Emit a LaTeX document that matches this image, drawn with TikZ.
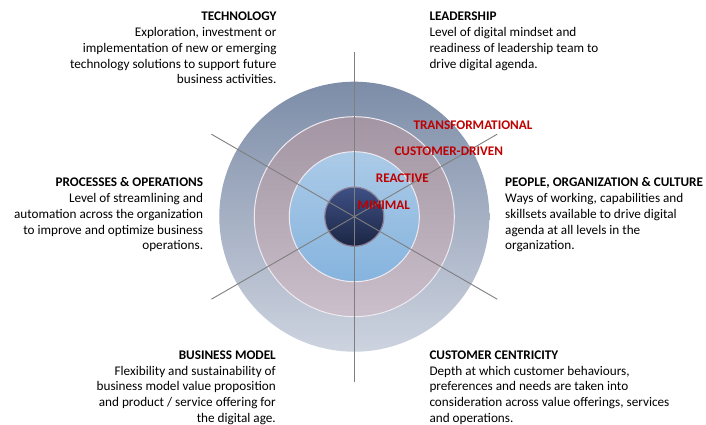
\documentclass[tikz,border=0pt]{standalone}
\usepackage{fontspec}
\setmainfont{Carlito}
\usetikzlibrary{calc}
\definecolor{outerT}{HTML}{7D8DA8}
\definecolor{outerB}{HTML}{CDD3DF}
\definecolor{mauveT}{HTML}{A395A3}
\definecolor{mauveB}{HTML}{CABFCA}
\definecolor{lblueT}{HTML}{ABCAE7}
\definecolor{lblueB}{HTML}{86B4DE}
\definecolor{darkT}{HTML}{3E5085}
\definecolor{darkB}{HTML}{1C2644}
\definecolor{darkRim}{HTML}{8C8198}
\definecolor{ringLine}{HTML}{EEEAF0}
\definecolor{spokeC}{HTML}{7F7F7F}
\definecolor{lvlRed}{HTML}{C00000}
\tikzset{
  ring/.style={circle, inner sep=0pt, outer sep=0pt},
  spoke/.style={draw=spokeC, line width=0.9pt},
  lvl/.style={text=lvlRed, font=\fontsize{13.2}{15.8}\selectfont\bfseries, inner sep=0pt, anchor=base west},
  block/.style={inner sep=0pt, font=\fontsize{13.2}{15.8}\selectfont, text=black}
}
\begin{document}
\begin{tikzpicture}[x=1pt,y=-1pt]
\fill[white] (0,0) rectangle (706,425);
\useasboundingbox (0,0) rectangle (706,425);
\coordinate (c) at (354.3,216.7);
% rings
\node[ring, minimum size=270pt, top color=outerT, bottom color=outerB] (outer) at (c) {};
\node[ring, minimum size=200pt, top color=mauveT, bottom color=mauveB, draw=ringLine, line width=1pt] (mauve) at (c) {};
\node[ring, minimum size=130pt, top color=lblueT, bottom color=lblueB, draw=ringLine, line width=1pt] (lblue) at (c) {};
\node[ring, minimum size=59pt, top color=darkT, bottom color=darkB, draw=darkRim, line width=1.2pt] (dark) at (c) {};
% spokes
\foreach \a in {30,90,150,210,270,330}{
  \coordinate (s\a) at ($(c)+(\a:165)$);
  \draw[spoke] (c) -- (s\a);
}
% level labels
\node[lvl] (transf) at (413.3,129.3) {TRANSFORMATIONAL};
\node[lvl] (custdr) at (394.3,155.7) {CUSTOMER-DRIVEN};
\node[lvl] (react) at (375.7,182.7) {REACTIVE};
\node[lvl] (minim) at (357.3,209) {MINIMAL};
% text blocks
\node[block, anchor=base east] (tech) at (276.7,20.7) {\begin{tabular}[t]{@{}r@{}}\textbf{TECHNOLOGY}\\Exploration, investment or\\implementation of new or emerging\\technology solutions to support future\\business activities.\end{tabular}};
\node[block, anchor=base west] (lead) at (429.3,20.7) {\begin{tabular}[t]{@{}l@{}}\textbf{LEADERSHIP}\\Level of digital mindset and\\readiness of leadership team to\\drive digital agenda.\end{tabular}};
\node[block, anchor=base east] (proc) at (203.3,186.7) {\begin{tabular}[t]{@{}r@{}}\textbf{PROCESSES \& OPERATIONS}\\Level of streamlining and\\automation across the organization\\to improve and optimize business\\operations.\end{tabular}};
\node[block, anchor=base west] (people) at (505,186.7) {\begin{tabular}[t]{@{}l@{}}\textbf{PEOPLE, ORGANIZATION \& CULTURE}\\Ways of working, capabilities and\\skillsets available to drive digital\\agenda at all levels in the\\organization.\end{tabular}};
\node[block, anchor=base east] (bm) at (276,359.3) {\begin{tabular}[t]{@{}r@{}}\textbf{BUSINESS MODEL}\\Flexibility and sustainability of\\business model value proposition\\and product / service offering for\\the digital age.\end{tabular}};
\node[block, anchor=base west] (cc) at (429.3,359.3) {\begin{tabular}[t]{@{}l@{}}\textbf{CUSTOMER CENTRICITY}\\Depth at which customer behaviours,\\preferences and needs are taken into\\consideration across value offerings, services\\and operations.\end{tabular}};
\end{tikzpicture}
\end{document}
